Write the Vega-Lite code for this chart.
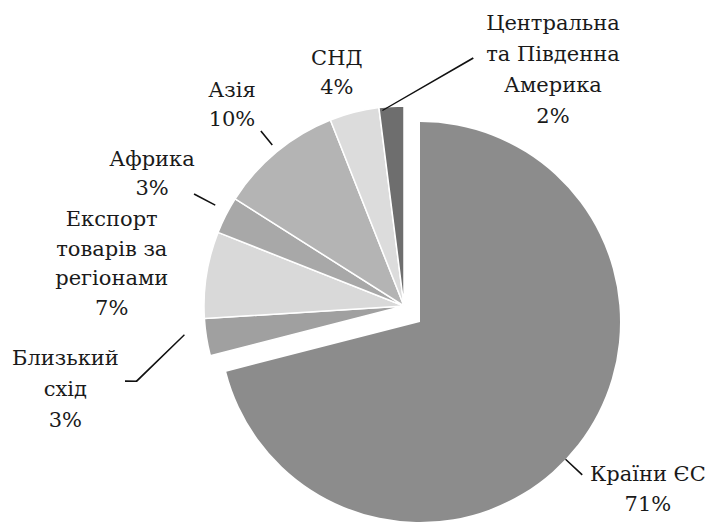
{
  "$schema": "https://vega.github.io/schema/vega-lite/v6.json",
  "width": 602,
  "height": 426,
  "autosize": {"type": "none"},
  "padding": {"left": 111, "top": 101, "right": 0, "bottom": 0},
  "background": "white",
  "config": {"view": {"stroke": null}},
  "data": {
    "values": [
      {"region": "Країни ЄС", "label": "Країни ЄС\n71%", "value": 71, "ord": 1},
      {"region": "Близький схід", "label": "Близький\nсхід\n3%", "value": 3, "ord": 2},
      {"region": "Експорт товарів за регіонами", "label": "Експорт\nтоварів за\nрегіонами\n7%", "value": 7, "ord": 3},
      {"region": "Африка", "label": "Африка\n3%", "value": 3, "ord": 4},
      {"region": "Азія", "label": "Азія\n10%", "value": 10, "ord": 5},
      {"region": "СНД", "label": "СНД\n4%", "value": 4, "ord": 6},
      {"region": "Центральна та Південна Америка", "label": "Центральна\nта Південна\nАмерика\n2%", "value": 2, "ord": 7}
    ]
  },
  "layer": [
    {
      "transform": [
        {"stack": "value", "groupby": [], "sort": [{"field": "ord"}], "as": ["v0", "v1"]},
        {"filter": "datum.region === 'Країни ЄС'"}
      ],
      "mark": {"type": "arc", "radius": 200, "xOffset": 8, "yOffset": 8},
      "encoding": {
        "theta": {"field": "v0", "type": "quantitative", "scale": {"domain": [0, 100]}},
        "theta2": {"field": "v1"},
        "color": {
          "field": "region", "type": "nominal", "legend": null,
          "scale": {
            "domain": ["Країни ЄС", "Близький схід", "Експорт товарів за регіонами", "Африка", "Азія", "СНД", "Центральна та Південна Америка"],
            "range": ["#8c8c8c", "#a0a0a0", "#d9d9d9", "#a8a8a8", "#b4b4b4", "#dcdcdc", "#6e6e6e"]
          }
        }
      }
    },
    {
      "transform": [
        {"stack": "value", "groupby": [], "sort": [{"field": "ord"}], "as": ["v0", "v1"]},
        {"filter": "datum.region !== 'Країни ЄС'"}
      ],
      "mark": {"type": "arc", "radius": 200, "xOffset": -8, "yOffset": -8, "stroke": "white", "strokeWidth": 1.5},
      "encoding": {
        "theta": {"field": "v0", "type": "quantitative", "scale": {"domain": [0, 100]}},
        "theta2": {"field": "v1"},
        "color": {"field": "region", "type": "nominal", "legend": null}
      }
    },
    {
      "transform": [
        {"stack": "value", "groupby": [], "sort": [{"field": "ord"}], "as": ["v0", "v1"]},
        {"filter": "datum.region === 'Центральна та Південна Америка'"}
      ],
      "mark": {"type": "arc", "radius": 305, "radius2": 200, "thetaOffset": 1.1694, "theta2Offset": 1.0501, "xOffset": -202.8, "yOffset": -103.4, "fill": "#111"},
      "encoding": {
        "theta": {"field": "v0", "type": "quantitative", "scale": {"domain": [0, 100]}},
        "theta2": {"field": "v1"}
      }
    },
    {
      "transform": [
        {"stack": "value", "groupby": [], "sort": [{"field": "ord"}], "as": ["v0", "v1"]},
        {"filter": "datum.region === 'Азія'"}
      ],
      "mark": {"type": "arc", "radius": 226, "radius2": 208, "thetaOffset": 0.3159, "theta2Offset": -0.3051, "xOffset": -8, "yOffset": -8, "fill": "#111"},
      "encoding": {
        "theta": {"field": "v0", "type": "quantitative", "scale": {"domain": [0, 100]}},
        "theta2": {"field": "v1"}
      }
    },
    {
      "transform": [
        {"stack": "value", "groupby": [], "sort": [{"field": "ord"}], "as": ["v0", "v1"]},
        {"filter": "datum.region === 'Африка'"}
      ],
      "mark": {"type": "arc", "radius": 238, "radius2": 214, "thetaOffset": 0.1099, "theta2Offset": -0.0716, "xOffset": -8, "yOffset": -8, "fill": "#111"},
      "encoding": {
        "theta": {"field": "v0", "type": "quantitative", "scale": {"domain": [0, 100]}},
        "theta2": {"field": "v1"}
      }
    },
    {
      "transform": [
        {"stack": "value", "groupby": [], "sort": [{"field": "ord"}], "as": ["v0", "v1"]},
        {"filter": "datum.region === 'Близький схід'"}
      ],
      "mark": {"type": "arc", "radius": 267, "radius2": 200, "thetaOffset": -0.5236, "theta2Offset": -0.7052, "xOffset": -84.2, "yOffset": -118.8, "fill": "#111"},
      "encoding": {
        "theta": {"field": "v0", "type": "quantitative", "scale": {"domain": [0, 100]}},
        "theta2": {"field": "v1"}
      }
    },
    {
      "transform": [
        {"stack": "value", "groupby": [], "sort": [{"field": "ord"}], "as": ["v0", "v1"]},
        {"filter": "datum.region === 'Близький схід'"}
      ],
      "mark": {"type": "arc", "radius": 212, "radius2": 200, "thetaOffset": 0.2513, "theta2Offset": 0.0706, "xOffset": -75, "yOffset": 68, "fill": "#111"},
      "encoding": {
        "theta": {"field": "v0", "type": "quantitative", "scale": {"domain": [0, 100]}},
        "theta2": {"field": "v1"}
      }
    },
    {
      "transform": [
        {"stack": "value", "groupby": [], "sort": [{"field": "ord"}], "as": ["v0", "v1"]},
        {"filter": "datum.region === 'Країни ЄС'"}
      ],
      "mark": {"type": "arc", "radius": 223, "radius2": 200, "thetaOffset": 2.323, "theta2Offset": -2.1306, "xOffset": 8, "yOffset": 8, "fill": "#111"},
      "encoding": {
        "theta": {"field": "v0", "type": "quantitative", "scale": {"domain": [0, 100]}},
        "theta2": {"field": "v1"}
      }
    },
    {
      "mark": {"type": "text", "radius": 240, "dx": 156, "dy": -50, "font": "DejaVu Serif", "fontSize": 21, "lineBreak": "\n", "lineHeight": 31, "align": "center", "baseline": "middle", "color": "#1a1a1a"},
      "encoding": {
        "theta": {"field": "value", "type": "quantitative", "stack": true, "scale": {"domain": [0, 100]}},
        "order": {"field": "ord"},
        "text": {"condition": {"test": "datum.region === 'Центральна та Південна Америка'", "field": "label"}, "value": ""}
      }
    },
    {
      "mark": {"type": "text", "radius": 250, "dx": -13, "dy": -13, "font": "DejaVu Serif", "fontSize": 21, "lineBreak": "\n", "lineHeight": 29, "align": "center", "baseline": "middle", "color": "#1a1a1a"},
      "encoding": {
        "theta": {"field": "value", "type": "quantitative", "stack": true, "scale": {"domain": [0, 100]}},
        "order": {"field": "ord"},
        "text": {"condition": {"test": "datum.region === 'СНД'", "field": "label"}, "value": ""}
      }
    },
    {
      "mark": {"type": "text", "radius": 273, "dx": -6, "dy": -13, "font": "DejaVu Serif", "fontSize": 21, "lineBreak": "\n", "lineHeight": 29, "align": "center", "baseline": "middle", "color": "#1a1a1a"},
      "encoding": {
        "theta": {"field": "value", "type": "quantitative", "stack": true, "scale": {"domain": [0, 100]}},
        "order": {"field": "ord"},
        "text": {"condition": {"test": "datum.region === 'Азія'", "field": "label"}, "value": ""}
      }
    },
    {
      "mark": {"type": "text", "radius": 294, "dx": 2, "dy": -21, "font": "DejaVu Serif", "fontSize": 21, "lineBreak": "\n", "lineHeight": 29, "align": "center", "baseline": "middle", "color": "#1a1a1a"},
      "encoding": {
        "theta": {"field": "value", "type": "quantitative", "stack": true, "scale": {"domain": [0, 100]}},
        "order": {"field": "ord"},
        "text": {"condition": {"test": "datum.region === 'Африка'", "field": "label"}, "value": ""}
      }
    },
    {
      "mark": {"type": "text", "radius": 304, "dx": 0, "dy": -46, "font": "DejaVu Serif", "fontSize": 21, "lineBreak": "\n", "lineHeight": 29.5, "align": "center", "baseline": "middle", "color": "#1a1a1a"},
      "encoding": {
        "theta": {"field": "value", "type": "quantitative", "stack": true, "scale": {"domain": [0, 100]}},
        "order": {"field": "ord"},
        "text": {"condition": {"test": "datum.region === 'Експорт товарів за регіонами'", "field": "label"}, "value": ""}
      }
    },
    {
      "mark": {"type": "text", "radius": 355, "dx": 4, "dy": -11, "font": "DejaVu Serif", "fontSize": 21, "lineBreak": "\n", "lineHeight": 31, "align": "center", "baseline": "middle", "color": "#1a1a1a"},
      "encoding": {
        "theta": {"field": "value", "type": "quantitative", "stack": true, "scale": {"domain": [0, 100]}},
        "order": {"field": "ord"},
        "text": {"condition": {"test": "datum.region === 'Близький схід'", "field": "label"}, "value": ""}
      }
    },
    {
      "mark": {"type": "text", "radius": 296, "dx": 2, "dy": -20, "font": "DejaVu Serif", "fontSize": 21, "lineBreak": "\n", "lineHeight": 30, "align": "center", "baseline": "middle", "color": "#1a1a1a"},
      "encoding": {
        "theta": {"field": "value", "type": "quantitative", "stack": true, "scale": {"domain": [0, 100]}},
        "order": {"field": "ord"},
        "text": {"condition": {"test": "datum.region === 'Країни ЄС'", "field": "label"}, "value": ""}
      }
    }
  ]
}
